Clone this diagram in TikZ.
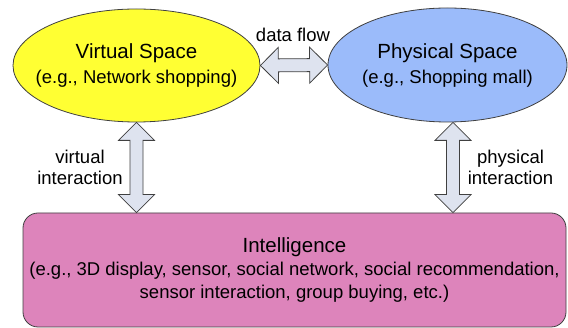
\documentclass[tikz,border=0pt]{standalone}
\usepackage{fontspec}
\setmainfont{Liberation Sans}
\usetikzlibrary{shapes.geometric,calc}
\definecolor{vyellow}{RGB}{255,255,51}
\definecolor{pblue}{RGB}{155,187,250}
\definecolor{ipink}{RGB}{221,132,187}
\definecolor{afill}{RGB}{222,227,239}
\definecolor{edge}{RGB}{64,64,64}

\begin{document}
\begin{tikzpicture}[x=1pt,y=-1pt,
  space/.style={ellipse, draw=edge, line width=0.8pt, inner xsep=-20pt, inner ysep=0pt,
    align=center, font=\fontsize{18.5}{25}\selectfont},
  lbl/.style={align=center, font=\fontsize{18.5}{21}\selectfont},
  fatarrow/.style={draw=edge, fill=afill, line width=0.8pt, line join=miter,
    to path={-- ($(\tikztostart)!18pt!(\tikztotarget)!18pt!90:(\tikztotarget)$)
      -- ($(\tikztostart)!18pt!(\tikztotarget)!6.5pt!90:(\tikztotarget)$)
      -- ($(\tikztotarget)!18pt!(\tikztostart)!6.5pt!-90:(\tikztostart)$)
      -- ($(\tikztotarget)!18pt!(\tikztostart)!18pt!-90:(\tikztostart)$)
      -- (\tikztotarget)
      -- ($(\tikztotarget)!18pt!(\tikztostart)!18pt!90:(\tikztostart)$)
      -- ($(\tikztotarget)!18pt!(\tikztostart)!6.5pt!90:(\tikztostart)$)
      -- ($(\tikztostart)!18pt!(\tikztotarget)!6.5pt!-90:(\tikztotarget)$)
      -- ($(\tikztostart)!18pt!(\tikztotarget)!18pt!-90:(\tikztotarget)$)
      -- cycle}}]
\useasboundingbox (0,0) rectangle (568,328);

% the two spaces
\node [space, fill=vyellow, minimum width=247pt, minimum height=113pt] (virt) at (136.5,65.5)
  {{\fontsize{20.5}{25}\selectfont Virtual Space}\\(e.g., Network shopping)};
\node [space, fill=pblue, minimum width=239pt, minimum height=114pt] (phys) at (447.5,65)
  {{\fontsize{20.5}{25}\selectfont Physical Space}\\(e.g., Shopping mall)};

% intelligence layer
\node [draw=edge, fill=ipink, line width=0.8pt, rounded corners=15pt, minimum width=543pt,
  minimum height=114pt, align=center, inner sep=0pt, font=\fontsize{18.5}{23}\selectfont]
  (intel) at (294.5,270)
  {{\fontsize{20.5}{26}\selectfont Intelligence}\\
   (e.g., 3D display, sensor, social network, social recommendation,\\
   sensor interaction, group buying, etc.)};

% arrows
\draw [fatarrow] (virt.east) to (phys.west);
\draw [fatarrow] (virt.south) to (virt.south |- intel.north);
\coordinate (ptop) at ($(phys.south)+(5.5,0)$);
\draw [fatarrow] (ptop) to (ptop |- intel.north);

\node [lbl] (flowlbl) at (293,35) {data flow};
\node [lbl] (vlbl) at (80,167.5) {virtual\\interaction};
\node [lbl] (plbl) at (510.5,167.5) {physical\\interaction};
\end{tikzpicture}
\end{document}
